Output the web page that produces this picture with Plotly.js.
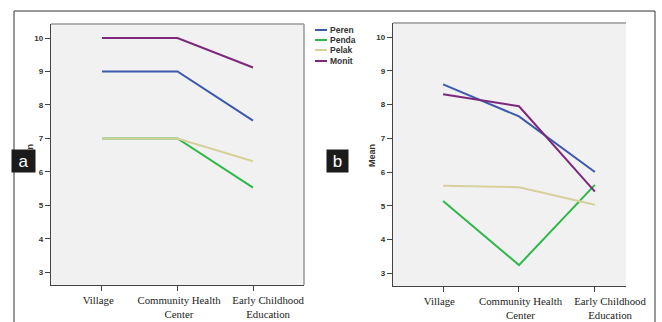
<!DOCTYPE html>
<html><head><meta charset="utf-8">
<script src="https://cdn.plot.ly/plotly-3.0.1.min.js"></script>
<style>html,body{margin:0;padding:0;background:#fff;}#chart{width:662px;height:322px;}</style>
</head><body><div id="chart"></div>
<script>
const categories = ['Village', 'Community Health<br>Center', 'Early Childhood<br>Education'];
const categoryIndex = [0, 1, 2];
const labelPositions = [-0.05, 1.02, 2.2];
const seriesNames = ['Perencanaan', 'Pendampingan', 'Pelaksanaan', 'Monitoring'];
const legendLabels = ['Peren', 'Penda', 'Pelak', 'Monit'];
const seriesColors = ['#3E58AC', '#2EB848', '#D6D19A', '#7C287D'];
const yTicks = [3, 4, 5, 6, 7, 8, 9, 10];

// Panel a
const aPerencanaan = [9, 9, 7.53];
const aPendampingan = [7, 7, 5.53];
const aPelaksanaan = [7, 7, 6.32];
const aMonitoring = [10, 10, 9.12];
// Panel b
const bPerencanaan = [8.6, 7.65, 6.0];
const bPendampingan = [5.14, 3.24, 5.62];
const bPelaksanaan = [5.59, 5.55, 5.03];
const bMonitoring = [8.31, 7.95, 5.42];

const W = 662, H = 322;
const px = v => v / W, py = v => 1 - v / H;

const aSeries = [aPerencanaan, aPendampingan, aPelaksanaan, aMonitoring];
const bSeries = [bPerencanaan, bPendampingan, bPelaksanaan, bMonitoring];
const traces = [];
aSeries.forEach((s, i) => traces.push({x: categoryIndex, y: s, type: 'scatter', mode: 'lines', name: seriesNames[i],
  line: {color: seriesColors[i], width: 2}, xaxis: 'x', yaxis: 'y', showlegend: false, hoverinfo: 'skip'}));
bSeries.forEach((s, i) => traces.push({x: categoryIndex, y: s, type: 'scatter', mode: 'lines', name: seriesNames[i],
  line: {color: seriesColors[i], width: 2}, xaxis: 'x2', yaxis: 'y2', showlegend: false, hoverinfo: 'skip'}));
// invisible carriers so the category-label axes are drawn
traces.push({x: categoryIndex, y: aPerencanaan, type: 'scatter', mode: 'lines', line: {width: 0}, opacity: 0,
  xaxis: 'x3', yaxis: 'y', showlegend: false, hoverinfo: 'skip'});
traces.push({x: categoryIndex, y: bPerencanaan, type: 'scatter', mode: 'lines', line: {width: 0}, opacity: 0,
  xaxis: 'x4', yaxis: 'y2', showlegend: false, hoverinfo: 'skip'});

const yRange = [2.62, 10.42];
const tickFontX = {family: 'Liberation Serif, Times New Roman, serif', size: 10.8, color: '#222'};
const xAx = (dom, range, anchor) => ({domain: dom, range: range, anchor: anchor, tickmode: 'array',
  tickvals: categoryIndex, showticklabels: false,
  showline: true, linecolor: '#444', linewidth: 1.2, ticks: 'outside', ticklen: 5, tickcolor: '#444',
  showgrid: false, zeroline: false});
const xLab = (dom, range, anchor, over) => ({domain: dom, range: range, anchor: anchor, overlaying: over, side: 'bottom',
  tickmode: 'array', tickvals: labelPositions, ticktext: categories, tickangle: 0, tickfont: tickFontX,
  showline: false, ticks: 'outside', ticklen: 5, tickcolor: 'rgba(0,0,0,0)', showgrid: false, zeroline: false});
const yAx = (dom, anchor) => ({domain: dom, range: yRange, anchor: anchor, tickvals: yTicks,
  showline: true, linecolor: '#444', linewidth: 1.2, ticks: 'outside', ticklen: 5, tickcolor: '#444',
  showgrid: false, zeroline: false, tickfont: {family: 'Liberation Sans, Arial, sans-serif', size: 8, color: '#333', weight: 'bold'}});

const shapes = [
  // outer frame
  {type: 'rect', xref: 'paper', yref: 'paper', x0: px(14), x1: px(655), y0: py(330), y1: py(11), line: {color: '#333', width: 1}},
  // plot frames (top/right)
  {type: 'line', xref: 'x domain', yref: 'y domain', x0: 0, x1: 1, y0: 1, y1: 1, line: {color: '#999', width: 1.5}},
  {type: 'line', xref: 'x domain', yref: 'y domain', x0: 1, x1: 1, y0: 0, y1: 1, line: {color: '#999', width: 1.5}},
  {type: 'line', xref: 'x2 domain', yref: 'y2 domain', x0: 0, x1: 1, y0: 1, y1: 1, line: {color: '#999', width: 1.5}}
];
const annotations = [];
const legendY = [30, 40, 50, 61];
legendLabels.forEach((lab, i) => {
  shapes.push({type: 'line', xref: 'paper', yref: 'paper', x0: px(315), x1: px(327), y0: py(legendY[i]), y1: py(legendY[i]),
    line: {color: seriesColors[i], width: 2}});
  annotations.push({xref: 'paper', yref: 'paper', x: px(328), y: py(legendY[i]), xanchor: 'left', yanchor: 'middle',
    text: lab, showarrow: false, font: {family: 'Liberation Sans, Arial, sans-serif', size: 8.5, color: '#333', weight: 'bold'}});
});
// axis titles
[30, 372].forEach(x => annotations.push({xref: 'paper', yref: 'paper', x: px(x), y: py(156), xanchor: 'center', yanchor: 'middle',
  textangle: -90, text: 'Mean', showarrow: false,
  font: {family: 'Liberation Sans, Arial, sans-serif', size: 9, color: '#333', weight: 'bold'}}));
// panel labels (black boxes with white letters, drawn over the titles)
[['a', 12, 35], ['b', 327, 348]].forEach(([t, x0, x1]) => annotations.push({xref: 'paper', yref: 'paper',
  x: px((x0 + x1) / 2), y: py(161), xanchor: 'center', yanchor: 'middle', text: t, showarrow: false,
  bgcolor: '#1b1b1b', width: x1 - x0, height: 22, borderpad: 0,
  font: {family: 'Liberation Sans, Arial, sans-serif', size: 17, color: '#fff'}}));

const layout = {
  width: W, height: H, margin: {l: 0, r: 0, t: 0, b: 0},
  paper_bgcolor: '#fff', plot_bgcolor: '#f1f1f1',
  xaxis: xAx([px(51), px(304)], [-0.675, 2.675], 'y'),
  yaxis: yAx([py(285), py(24)], 'x'),
  xaxis2: xAx([px(393), px(626)], [-0.66, 2.41], 'y2'),
  yaxis2: yAx([py(286), py(23)], 'x2'),
  xaxis3: xLab([px(51), px(304)], [-0.675, 2.675], 'y', 'x'),
  xaxis4: xLab([px(393), px(626)], [-0.66, 2.41], 'y2', 'x2'),
  shapes: shapes, annotations: annotations, showlegend: false
};
Plotly.newPlot('chart', traces, layout, {staticPlot: true, displayModeBar: false});
</script></body></html>
